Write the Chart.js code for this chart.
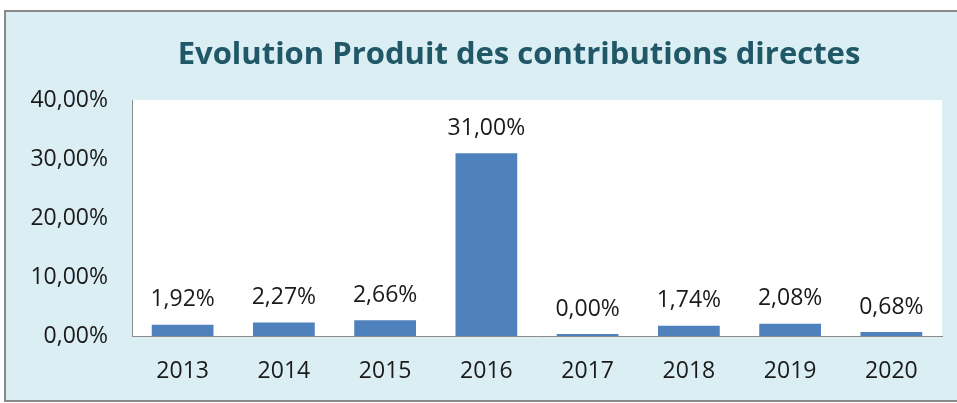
<!DOCTYPE html>
<html>
<head>
<meta charset="utf-8">
<script src="https://cdn.jsdelivr.net/npm/chart.js@4"></script>
<style>
  html, body { margin: 0; padding: 0; background: #fff; overflow: hidden; }
  #box {
    position: absolute; left: 4px; top: 10px;
    width: 1026px; height: 388px;
    border: 2px solid #8a8a8a;
    background: #dbeef4;
  }
</style>
</head>
<body>
<div id="box"><canvas id="chartContrib" width="1026" height="388"></canvas></div>
<script>
// Evolution Produit des contributions directes (en %)
const years = ['2013', '2014', '2015', '2016', '2017', '2018', '2019', '2020'];
const evolution = [1.92, 2.27, 2.66, 31.00, 0.00, 1.74, 2.08, 0.68];
const yTicks = [0, 10, 20, 30, 40];

const fmtPct = v => v.toFixed(2).replace('.', ',') + '%';

// fond blanc de la zone de tracé
const plotBg = {
  id: 'plotBg',
  beforeDraw(chart) {
    const { ctx, chartArea: a } = chart;
    ctx.save();
    ctx.fillStyle = '#ffffff';
    ctx.fillRect(a.left, a.top, a.right - a.left, a.bottom - a.top);
    ctx.restore();
  }
};

// titre centré sur toute la largeur du cadre
const titleFull = {
  id: 'titleFull',
  afterLayout(chart) {
    const t = chart.titleBlock;
    if (t) { t.left = 0; t.right = chart.width; t.width = chart.width; }
  }
};

// étiquettes de valeurs au-dessus des barres
const barLabels = {
  id: 'barLabels',
  afterDatasetsDraw(chart) {
    const ctx = chart.ctx;
    const meta = chart.getDatasetMeta(0);
    ctx.save();
    ctx.font = '23px "Open Sans"';
    ctx.fillStyle = '#1a1a1a';
    ctx.textAlign = 'center';
    ctx.textBaseline = 'middle';
    meta.data.forEach((bar, i) => {
      ctx.fillText(fmtPct(evolution[i]), bar.x, bar.y - 25);
    });
    ctx.restore();
  }
};

const ctxContrib = document.getElementById('chartContrib').getContext('2d');
new Chart(ctxContrib, {
  type: 'bar',
  data: {
    labels: years,
    datasets: [{
      label: 'Evolution',
      data: evolution,
      backgroundColor: '#4f81bd',
      borderWidth: 0,
      barPercentage: 0.61,
      categoryPercentage: 1,
      minBarLength: 2
    }]
  },
  options: {
    responsive: false,
    animation: false,
    layout: { padding: { left: 0, right: 90, top: 0, bottom: 0 } },
    plugins: {
      legend: { display: false },
      tooltip: { enabled: false },
      title: {
        display: true,
        text: 'Evolution Produit des contributions directes',
        color: '#215868',
        font: { family: '"Open Sans"', size: 31, weight: 'bold' },
        padding: { top: 25, bottom: 26 }
      }
    },
    scales: {
      x: {
        afterFit(scale) { scale.height = 64; },
        grid: { display: false, drawTicks: false },
        border: { display: true, color: '#8c8c8c', width: 1 },
        ticks: {
          color: '#1a1a1a',
          font: { family: '"Open Sans"', size: 23 },
          padding: 22
        }
      },
      y: {
        min: 0,
        max: 40,
        afterFit(scale) { scale.width = 126; },
        afterBuildTicks(scale) { scale.ticks = yTicks.map(v => ({ value: v })); },
        grid: { display: false, drawTicks: false },
        border: { display: true, color: '#8c8c8c', width: 1 },
        ticks: {
          color: '#1a1a1a',
          font: { family: '"Open Sans"', size: 23 },
          padding: 24,
          callback: v => fmtPct(v)
        }
      }
    }
  },
  plugins: [plotBg, titleFull, barLabels]
});
</script>
</body>
</html>
